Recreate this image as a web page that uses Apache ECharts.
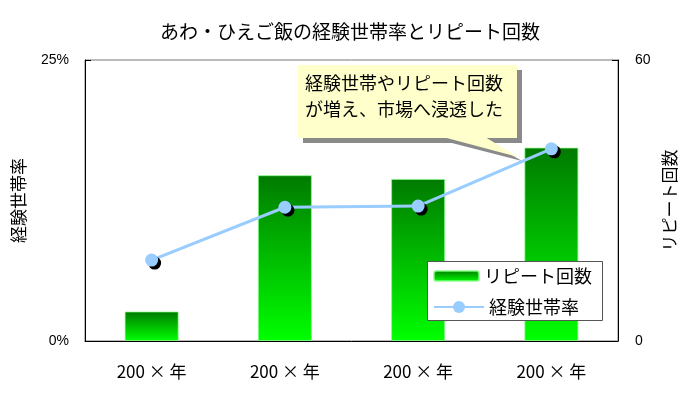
<!DOCTYPE html>
<html>
<head>
<meta charset="utf-8">
<script src="https://cdn.jsdelivr.net/npm/echarts@6/dist/echarts.min.js"></script>
<style>
  html, body { margin: 0; padding: 0; background: #fff; }
  #chart { width: 700px; height: 398px; }
</style>
</head>
<body>
<div id="chart"></div>
<script>
const JP = '"Noto Sans CJK JP", sans-serif'
const NUM = '"Liberation Sans", Arial, sans-serif'

const categories = ['200 × 年', '200 × 年', '200 × 年', '200 × 年']
const repeatCounts = [6.3, 35.4, 34.6, 41.3]
const householdRate = [7.2, 11.9, 12.0, 17.1]
const rateTicks = [0, 25]
const countTicks = [0, 60]

const chart = echarts.init(document.getElementById('chart'))

const barGradient = new echarts.graphic.LinearGradient(0, 0, 0, 1, [
  { offset: 0, color: '#007a00' },
  { offset: 1, color: '#00ff00' }
])

const legendText = { fontFamily: JP, fontSize: 18, color: '#000' }

chart.setOption({
  animation: false,
  title: {
    text: 'あわ・ひえご飯の経験世帯率とリピート回数',
    left: 'center',
    top: 17,
    textStyle: { fontFamily: JP, fontSize: 19, fontWeight: 'normal', color: '#000' }
  },
  grid: {
    left: 85, right: 82, top: 60, bottom: 57,
    show: true, borderColor: '#777', borderWidth: 1
  },
  legend: [
    {
      left: 427,
      top: 265,
      padding: [2, 6],
      itemWidth: 45,
      itemHeight: 10,
      textStyle: legendText,
      data: ['リピート回数']
    },
    {
      left: 427,
      top: 296,
      padding: [2, 6],
      itemWidth: 50,
      itemHeight: 15,
      textStyle: legendText,
      data: ['経験世帯率']
    }
  ],
  xAxis: {
    type: 'category',
    data: categories,
    axisLine: { lineStyle: { color: '#000' } },
    axisTick: { inside: true, length: 5, lineStyle: { color: '#000' } },
    axisLabel: { fontFamily: JP, fontSize: 17, color: '#000', margin: 22 }
  },
  yAxis: [
    {
      type: 'value',
      min: rateTicks[0],
      max: rateTicks[1],
      interval: rateTicks[1] - rateTicks[0],
      name: '経験世帯率',
      nameLocation: 'middle',
      nameRotate: 90,
      nameGap: 58,
      nameTextStyle: { fontFamily: JP, fontSize: 17, color: '#000' },
      axisLine: { show: true, lineStyle: { color: '#000' } },
      axisTick: { show: true, inside: true, length: 6, lineStyle: { color: '#000' } },
      axisLabel: { fontFamily: NUM, fontSize: 14, color: '#000', margin: 16, formatter: '{value}%' },
      splitLine: { show: false }
    },
    {
      type: 'value',
      min: countTicks[0],
      max: countTicks[1],
      interval: countTicks[1] - countTicks[0],
      name: 'リピート回数',
      nameLocation: 'middle',
      nameRotate: 90,
      nameGap: 42,
      nameTextStyle: { fontFamily: JP, fontSize: 17, color: '#000' },
      axisLine: { show: true, lineStyle: { color: '#000' } },
      axisTick: { show: true, inside: true, length: 6, lineStyle: { color: '#000' } },
      axisLabel: { fontFamily: NUM, fontSize: 14, color: '#000', margin: 17 },
      splitLine: { show: false }
    }
  ],
  series: [
    {
      name: 'リピート回数',
      type: 'bar',
      yAxisIndex: 1,
      barWidth: 54,
      data: repeatCounts,
      itemStyle: { color: barGradient, borderColor: 'rgba(130,255,130,0.7)', borderWidth: 1 }
    },
    {
      name: '経験世帯率',
      type: 'line',
      yAxisIndex: 0,
      data: householdRate,
      symbol: 'circle',
      symbolSize: 13,
      lineStyle: { color: '#99ccff', width: 3 },
      itemStyle: {
        color: '#99ccff',
        shadowColor: '#000',
        shadowOffsetX: 3,
        shadowOffsetY: 3,
        shadowBlur: 0
      }
    }
  ],
  graphic: [
    {
      // legend frame
      type: 'rect',
      z: 3,
      shape: { x: 427.5, y: 261.5, width: 175, height: 59 },
      style: { fill: '#fff', stroke: '#555', lineWidth: 1 }
    },
    {
      type: 'group',
      z: 100,
      children: [
        { type: 'rect', shape: { x: 303, y: 70, width: 219, height: 73 }, style: { fill: '#8a8a8a' } },
        { type: 'polygon', shape: { points: [[448, 142], [490, 142], [522, 161]] }, style: { fill: '#8a8a8a' } },
        { type: 'rect', shape: { x: 298, y: 65, width: 219, height: 73 }, style: { fill: '#ffffcc' } },
        { type: 'polygon', shape: { points: [[443, 137], [485, 137], [518, 157]] }, style: { fill: '#ffffcc' } },
        {
          type: 'text',
          x: 305,
          y: 70,
          style: {
            text: '経験世帯やリピート回数\nが増え、市場へ浸透した',
            fill: '#000',
            font: '18px "Noto Sans CJK JP", sans-serif',
            lineHeight: 26
          }
        }
      ]
    }
  ]
})
</script>
</body>
</html>
